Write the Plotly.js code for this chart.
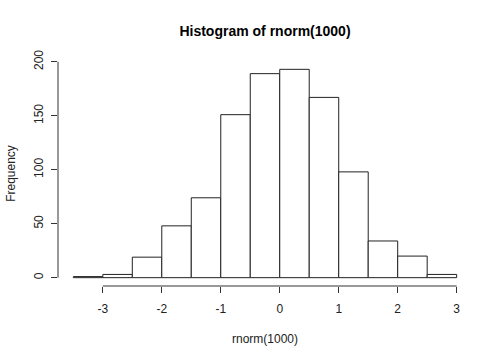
<!DOCTYPE html>
<html>
<head>
<meta charset="utf-8">
<script src="https://cdn.plot.ly/plotly-3.0.1.min.js"></script>
<style>html,body{margin:0;padding:0;background:#fff;}#chart{width:500px;height:357px;}</style>
</head>
<body>
<div id="chart"></div>
<script>
// Histogram bins (left edges) and counts
const binLeft = [-3.5, -3.0, -2.5, -2.0, -1.5, -1.0, -0.5, 0.0, 0.5, 1.0, 1.5, 2.0, 2.5];
const binWidth = 0.5;
const counts = [1, 3, 19, 48, 74, 151, 189, 193, 167, 98, 34, 20, 3];
const xTicks = [-3, -2, -1, 0, 1, 2, 3];
const yTicks = [0, 50, 100, 150, 200];
const titleText = "Histogram of rnorm(1000)";
const xLabel = "rnorm(1000)";
const yLabel = "Frequency";

const xmin = Math.min(...binLeft), xmax = Math.max(...binLeft) + binWidth;
const ymax = Math.max(...counts);
const xpad = (xmax - xmin) * 0.04, ypad = ymax * 0.04;

const font = "Liberation Sans, Arial, Helvetica, sans-serif";

const trace = {
  type: 'bar',
  x: binLeft,
  y: counts,
  width: binLeft.map(() => binWidth),
  offset: 0,
  marker: {color: '#ffffff', line: {color: '#222222', width: 1}},
  hoverinfo: 'x+y'
};

const layout = {
  width: 500, height: 357,
  margin: {l: 58, r: 28, t: 61, b: 71, pad: 0},
  paper_bgcolor: '#ffffff', plot_bgcolor: '#ffffff',
  showlegend: false,
  bargap: 0,
  font: {family: font, size: 12, color: '#000'},
  title: {text: '<b>' + titleText + '</b>', font: {family: font, size: 14, color: '#000'}, x: 0.5 * (58 + 472) / 500, xanchor: 'center', y: 1 - 31 / 357, yanchor: 'middle'},
  xaxis: {
    range: [xmin - xpad, xmax + xpad],
    tickvals: xTicks, ticktext: xTicks.map(String),
    ticks: 'outside', ticklen: 6, tickwidth: 1, tickcolor: '#333',
    ticklabelstandoff: 6,
    showline: false, showgrid: false, zeroline: false,
    tickfont: {family: font, size: 12, color: '#222'},
    title: {text: xLabel, font: {family: font, size: 12, color: '#222'}, standoff: 19},
    automargin: false
  },
  yaxis: {
    range: [-ypad, ymax + ypad],
    tickvals: yTicks, ticktext: yTicks.map(String),
    ticks: 'outside', ticklen: 6, tickwidth: 1, tickcolor: '#333',
    ticklabelstandoff: 3,
    tickangle: -90,
    showline: false, showgrid: false, zeroline: false,
    tickfont: {family: font, size: 12, color: '#222'},
    title: {text: yLabel, font: {family: font, size: 12, color: '#222'}, standoff: 14},
    automargin: false
  },
  shapes: [
    {type: 'line', xref: 'x', yref: 'paper', x0: xTicks[0], x1: xTicks[xTicks.length - 1], y0: 0, y1: 0, line: {color: '#333', width: 1}},
    {type: 'line', xref: 'paper', yref: 'y', x0: 0, x1: 0, y0: yTicks[0], y1: yTicks[yTicks.length - 1], line: {color: '#333', width: 1}}
  ]
};

Plotly.newPlot('chart', [trace], layout, {displayModeBar: false, staticPlot: true});
</script>
</body>
</html>
